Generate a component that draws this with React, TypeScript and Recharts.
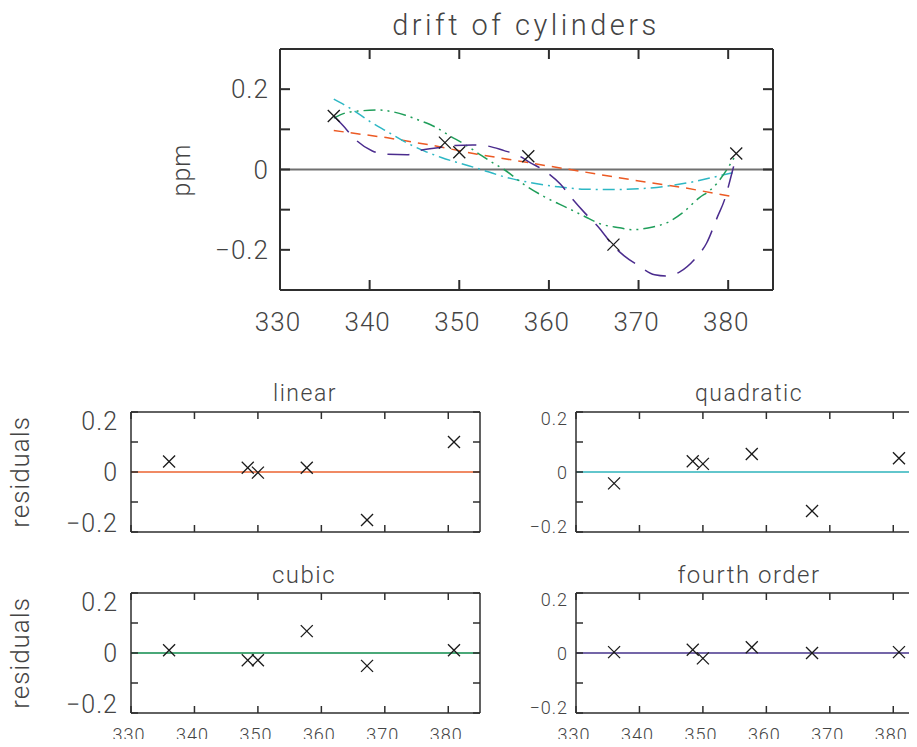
import React from 'react';
import { ComposedChart, Line, Scatter, XAxis, YAxis, ReferenceLine } from 'recharts';

// epochs where the cylinders were measured, and their drift (ppm)
const epochs = [336, 348.4, 350, 357.7, 367.2, 380.9];
const drift = [0.133, 0.067, 0.043, 0.033, -0.187, 0.04];

// residuals left over by each polynomial fit
const linearResid = [0.035, 0.014, -0.002, 0.014, -0.16, 0.1];
const quadraticResid = [-0.038, 0.036, 0.027, 0.06, -0.13, 0.046];
const cubicResid = [0.009, -0.024, -0.024, 0.073, -0.043, 0.009];
const fourthResid = [0.003, 0.011, -0.018, 0.019, 0, 0.003];

// fitted curves, sampled along x
const linearFitX = [336, 342, 347, 352, 358, 365, 370.4, 375, 380.4];
const linearFitY = [0.097, 0.079, 0.06, 0.038, 0.016, -0.01, -0.03, -0.045, -0.067];

const quadFitX = [336, 338, 340, 342, 344, 346, 348, 350, 352, 355, 358, 361, 364, 367, 370, 373, 376, 378, 380.5];
const quadFitY = [0.175, 0.15, 0.12, 0.094, 0.068, 0.047, 0.03, 0.016, 0.003, -0.018, -0.033, -0.043, -0.049, -0.05, -0.048, -0.042, -0.031, -0.021, -0.008];

const cubicFitX = [336, 337.5, 339, 341, 342.5, 344, 345.7, 347.3, 349, 350.5, 352, 353.5, 355, 357.2, 359.5, 362, 364, 365.7, 367.9, 369.3, 371.6, 373.4, 374.9, 376.8, 377.9, 378.8, 380, 380.9];
const cubicFitY = [0.128, 0.142, 0.146, 0.148, 0.144, 0.135, 0.121, 0.106, 0.083, 0.064, 0.042, 0.02, 0, -0.037, -0.068, -0.095, -0.117, -0.135, -0.145, -0.15, -0.143, -0.13, -0.108, -0.07, -0.053, -0.033, 0.005, 0.038];

const fourthFitX = [336, 337, 338.4, 340.3, 341.8, 344.2, 345.7, 347.9, 349.5, 351.5, 353, 355, 356.5, 358, 359.3, 361.3, 362.5, 364, 365.7, 367.1, 368.4, 369.9, 371.8, 373.1, 374.6, 376.4, 377.6, 378.8, 379.6, 380.4, 380.9];
const fourthFitY = [0.133, 0.11, 0.075, 0.046, 0.038, 0.037, 0.048, 0.055, 0.06, 0.061, 0.059, 0.047, 0.036, 0.016, 0, -0.037, -0.07, -0.108, -0.148, -0.188, -0.215, -0.238, -0.262, -0.265, -0.255, -0.22, -0.183, -0.118, -0.075, -0.01, 0.033];

// axis ticks
const xTicks = [330, 340, 350, 360, 370, 380];
const driftTicks = [-0.3, -0.2, -0.1, 0, 0.1, 0.2, 0.3];
const residTicks = [-0.2, -0.1, 0, 0.1, 0.2];
const yLabelValues = [-0.2, 0, 0.2];

const INK = '#2e2e2e';
const TEXT = '#444';
const FONT = 'Roboto, "DejaVu Sans", sans-serif';
const FW = 300;

const ORANGE = '#ec5a24';
const CYAN = '#2db7c4';
const GREEN = '#1f9e5a';
const PURPLE = '#4b2c8e';

const LW = 100; // room left of each plot for y labels
const HB = 50; // room below each plot for x labels
const HT = 16; // headroom above each plot

const fmt = (v: number) => (v === 0 ? '0' : v < 0 ? `\u2212${Math.abs(v)}` : `${v}`);

type Curve = { xs: number[]; ys: number[]; color: string; dash: string; kind?: 'linear' | 'monotone' };

type PanelProps = {
  left: number;
  top: number;
  w: number;
  h: number;
  yDomain: [number, number];
  yTicks: number[];
  showX: boolean;
  tickLen: number;
  frame: number;
  yFont: number;
  yGap: number;
  edgeShift: number;
  xFont: number;
  xOff: number;
  curves: Curve[];
  zeroColor: string;
  marksY: number[];
};

function XMark(props: any) {
  const { cx, cy } = props;
  const s = 6;
  return (
    <g stroke="#1a1a1a" strokeWidth={1.3}>
      <line x1={cx - s} y1={cy - s} x2={cx + s} y2={cy + s} />
      <line x1={cx - s} y1={cy + s} x2={cx + s} y2={cy - s} />
    </g>
  );
}

function Panel(p: PanelProps) {
  const width = LW + p.w + 1;
  const height = HT + 1 + p.h + HB;
  const marks = epochs.map((x, i) => ({ x, y: p.marksY[i] }));
  const [yMin, yMax] = p.yDomain;
  const axisLine = { stroke: INK, strokeWidth: p.frame };

  const textProps = { fill: TEXT, fontFamily: FONT, fontWeight: FW, dominantBaseline: 'central' as const };

  const bottomTick = (t: any) => (
    <g>
      <line x1={t.x} y1={t.y} x2={t.x} y2={t.y - p.tickLen} stroke={INK} strokeWidth={p.frame} />
      {p.showX && (
        <text x={t.x - 2} y={t.y + p.xOff} textAnchor="middle" fontSize={p.xFont} letterSpacing={1} {...textProps}>
          {fmt(t.payload.value)}
        </text>
      )}
    </g>
  );
  const topTick = (t: any) => (
    <line x1={t.x} y1={t.y} x2={t.x} y2={t.y + p.tickLen} stroke={INK} strokeWidth={p.frame} />
  );
  const leftTick = (t: any) => {
    const v = t.payload.value;
    const shift = v === yMax ? p.edgeShift : v === yMin ? -p.edgeShift : 0;
    return (
      <g>
        <line x1={t.x} y1={t.y} x2={t.x + p.tickLen} y2={t.y} stroke={INK} strokeWidth={p.frame} />
        {yLabelValues.includes(v) && (
          <text x={t.x - p.yGap} y={t.y + shift} textAnchor="end" fontSize={p.yFont} letterSpacing={1} {...textProps}>
            {fmt(v)}
          </text>
        )}
      </g>
    );
  };
  const rightTick = (t: any) => (
    <line x1={t.x} y1={t.y} x2={t.x - p.tickLen} y2={t.y} stroke={INK} strokeWidth={p.frame} />
  );

  return (
    <div style={{ position: 'absolute', left: p.left - LW, top: p.top - 1 - HT }}>
      <ComposedChart width={width} height={height} margin={{ top: HT, right: 0, bottom: 0, left: 0 }}>
        <XAxis xAxisId="b" dataKey="x" type="number" orientation="bottom" domain={[330, 385]} ticks={xTicks}
          interval={0} height={HB} tickSize={0} tickMargin={0} tickLine={false} axisLine={axisLine}
          tick={bottomTick} allowDataOverflow />
        <XAxis xAxisId="t" dataKey="x" type="number" orientation="top" domain={[330, 385]} ticks={xTicks}
          interval={0} height={1} tickSize={0} tickMargin={0} tickLine={false} axisLine={axisLine}
          tick={topTick} allowDataOverflow />
        <YAxis yAxisId="l" dataKey="y" type="number" orientation="left" domain={p.yDomain} ticks={p.yTicks}
          interval={0} width={LW} tickSize={0} tickMargin={0} tickLine={false} axisLine={axisLine}
          tick={leftTick} allowDataOverflow />
        <YAxis yAxisId="r" dataKey="y" type="number" orientation="right" domain={p.yDomain} ticks={p.yTicks}
          interval={0} width={1} tickSize={0} tickMargin={0} tickLine={false} axisLine={axisLine}
          tick={rightTick} allowDataOverflow />
        <ReferenceLine xAxisId="b" yAxisId="l" y={0} stroke={p.zeroColor} strokeWidth={2} />
        {p.curves.map((c, i) => (
          <Line key={i} xAxisId="b" yAxisId="l" data={c.xs.map((x, j) => ({ x, y: c.ys[j] }))} dataKey="y"
            type={c.kind ?? 'monotone'} stroke={c.color} strokeWidth={1.5} strokeDasharray={c.dash}
            dot={false} activeDot={false} isAnimationActive={false} />
        ))}
        <Scatter xAxisId="b" yAxisId="l" data={marks} dataKey="y" shape={XMark} isAnimationActive={false} />
      </ComposedChart>
    </div>
  );
}

function Label({ x, y, size, rotate, spacing = 1, children }: any) {
  return (
    <div
      style={{
        position: 'absolute',
        left: x,
        top: y,
        transform: `translate(-50%, -50%)${rotate ? ' rotate(-90deg)' : ''}`,
        fontSize: size,
        lineHeight: 1,
        whiteSpace: 'nowrap',
        color: TEXT,
        fontFamily: FONT,
        fontWeight: FW,
        letterSpacing: spacing,
      }}
    >
      {children}
    </div>
  );
}

const driftCurves: Curve[] = [
  { xs: linearFitX, ys: linearFitY, color: ORANGE, dash: '10 7', kind: 'linear' },
  { xs: quadFitX, ys: quadFitY, color: CYAN, dash: '12 5 2 5' },
  { xs: cubicFitX, ys: cubicFitY, color: GREEN, dash: '12 5 2 5 2 5' },
  { xs: fourthFitX, ys: fourthFitY, color: PURPLE, dash: '22 12' },
];

const residBase = {
  w: 349,
  h: 120,
  yDomain: [-0.2, 0.2] as [number, number],
  yTicks: residTicks,
  tickLen: 7,
  frame: 1.5,
  curves: [] as Curve[],
};

export default function App() {
  return (
    <div style={{ position: 'relative', width: 917, height: 747, margin: -8, overflow: 'hidden', background: '#fff' }}>
      <Label x={526} y={25} size={29} spacing={3.5}>drift of cylinders</Label>
      <Label x={181} y={170} size={25} rotate>ppm</Label>
      <Panel left={280} top={49} w={493} h={241} yDomain={[-0.3, 0.3]} yTicks={driftTicks} showX
        tickLen={10} frame={2} yFont={26} yGap={11} edgeShift={0} xFont={26} xOff={32}
        curves={driftCurves} zeroColor="#707070" marksY={drift} />

      <Label x={305} y={393} size={23} spacing={1.5}>linear</Label>
      <Label x={20} y={472} size={26} rotate>residuals</Label>
      <Panel {...residBase} left={131} top={412} showX={false} yFont={25} yGap={13} edgeShift={9}
        xFont={18} xOff={21} zeroColor="#f08a64" marksY={linearResid} />

      <Label x={749} y={393} size={23} spacing={1.5}>quadratic</Label>
      <Panel {...residBase} left={576} top={412} showX={false} yFont={18} yGap={8} edgeShift={6}
        xFont={18} xOff={21} zeroColor="#62c6cc" marksY={quadraticResid} />

      <Label x={304} y={575} size={24} spacing={1.5}>cubic</Label>
      <Label x={20} y={653} size={26} rotate>residuals</Label>
      <Panel {...residBase} left={131} top={593} showX yFont={25} yGap={13} edgeShift={9}
        xFont={18} xOff={21} zeroColor="#4aa878" marksY={cubicResid} />

      <Label x={749} y={575} size={24} spacing={1.5}>fourth order</Label>
      <Panel {...residBase} left={576} top={593} showX yFont={18} yGap={8} edgeShift={6}
        xFont={18} xOff={21} zeroColor="#7466a8" marksY={fourthResid} />
    </div>
  );
}
